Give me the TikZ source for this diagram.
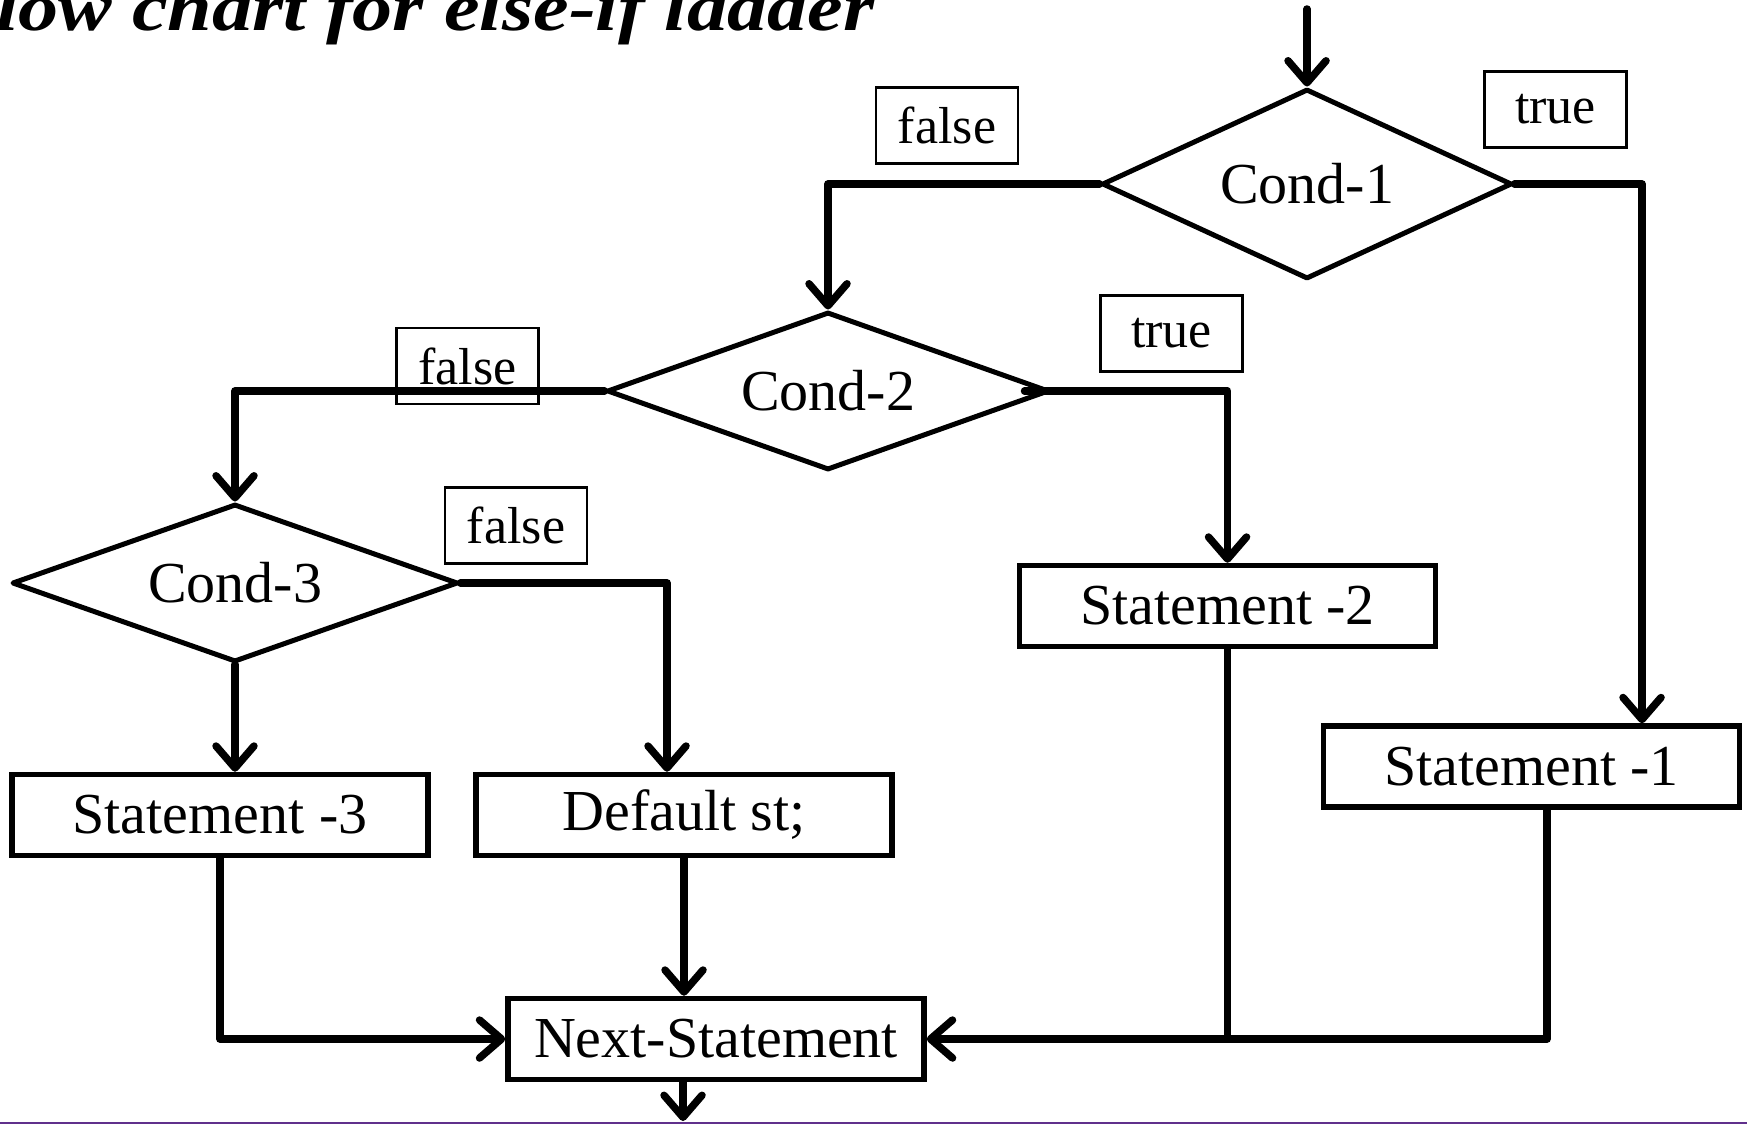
\documentclass[tikz,border=0pt]{standalone}
\usepackage{fontspec}
\usepackage{graphicx}
\setmainfont{Liberation Serif}
\usetikzlibrary{shapes.geometric,arrows.meta}
\definecolor{rulepurple}{RGB}{96,48,140}
\begin{document}
\begin{tikzpicture}[x=1pt,y=-1pt,
  flow/.style={line width=7.5pt, line cap=round, line join=round},
  arr/.style={flow, -{Straight Barb[length=22pt,width=38pt,line cap=round,line join=round]}},
  cond/.style={diamond, draw, line width=5pt, line join=round, inner sep=0pt,
    label={[font=\fontsize{58}{60}\selectfont]center:#1}},
  stmt/.style={rectangle, draw, line width=5.5pt, inner sep=0pt,
    minimum width=416pt, minimum height=81pt, font=\fontsize{58}{60}\selectfont},
  tag/.style={rectangle, draw, line width=2.2pt, inner sep=0pt,
    minimum width=142pt, minimum height=76pt, font=\fontsize{52}{54}\selectfont},
]
\useasboundingbox (0,0) rectangle (1747,1124);

% heading
\node[anchor=base west, inner sep=0pt, font=\bfseries\itshape\fontsize{68}{68}\selectfont]
  (title) at (-4,31) {\scalebox{1.18}[1]{low chart for else-if ladder}};

% decisions
\node[cond=Cond-1, minimum width=410pt, minimum height=190pt] (c1) at (1307,184) {};
\node[cond=Cond-2, minimum width=442pt, minimum height=158pt] (c2) at (828,391) {};
\node[cond=Cond-3, minimum width=446pt, minimum height=158pt] (c3) at (235,583) {};

% statements
\node[stmt] (st1) at (1531.5,766.5) {Statement -1};
\node[stmt] (st2) at (1227.5,606) {Statement -2};
\node[stmt] (st3) at (220,815) {Statement -3};
\node[stmt] (def) at (684,815) {Default st;};
\node[stmt] (next) at (716,1039) {Next-Statement};

% branch labels
\node[tag] (f1) at (947,125.5) {false};
\node[tag] (t1) at (1555.5,109.5) {true};
\node[tag] (f2) at (467.5,366) {false};
\node[tag] (t2) at (1171.5,333.5) {true};
\node[tag] (f3) at (516,525.5) {false};

% connectors
\coordinate (entry) at (1307,9);
\coordinate (exit) at (683,1121);
\draw[arr] (entry) -- (c1.north);
\draw[arr] (c1.west) -| (c2.north);
\draw[arr] (c1.east) -| ([xshift=110.5pt]st1.north);
\draw[arr] ([xshift=-27pt]c2.east) -| (st2.north);
\draw[arr] (c2.west) -| (c3.north);
\draw[arr] (c3.south) -- (c3.south |- st3.north);
\draw[arr] (c3.east) -| ([xshift=-17pt]def.north);
\draw[arr] (st3.south) |- (next.west);
\draw[arr] (def.south) -- (def.south |- next.north);
\draw[flow] (st2.south) -- (st2.south |- next.east);
\draw[arr] ([xshift=15.5pt]st1.south) |- (next.east);
\draw[arr] (next.south -| exit) -- (exit);

% bottom rule
\draw[rulepurple, line width=2.5pt] (0,1123) -- (1747,1123);
\end{tikzpicture}
\end{document}
